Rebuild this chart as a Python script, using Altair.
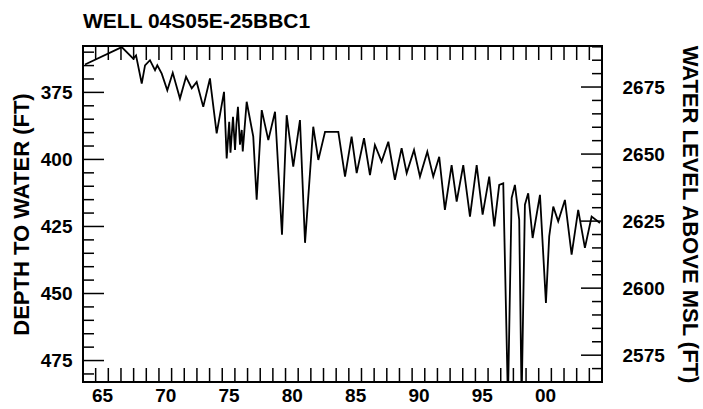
import altair as alt
import pandas as pd

# Hydrograph for well 04S05E-25BBC1: decimal year and depth to water (ft below land surface)
years = [1964.16, 1967.06, 1967.97, 1968.19, 1968.64, 1968.90, 1969.29, 1969.69, 1969.87,
         1970.22, 1970.66, 1971.09, 1971.66, 1972.14, 1972.59, 1972.98, 1973.50, 1974.03,
         1974.12, 1974.56, 1975.14, 1975.35, 1975.55, 1975.65, 1975.85, 1976.01, 1976.12,
         1976.24, 1976.40, 1976.54, 1976.62, 1976.93, 1977.45,
         1977.72, 1978.12, 1978.64, 1979.17, 1979.72, 1980.09, 1980.61, 1981.14, 1981.54,
         1982.19, 1982.59, 1983.12, 1984.17, 1984.70, 1985.22, 1985.62, 1986.20, 1986.67,
         1987.06, 1987.59, 1988.12, 1988.64, 1989.17, 1989.57, 1990.15, 1990.62, 1991.20,
         1991.67, 1992.14, 1992.59, 1993.12, 1993.52, 1994.04, 1994.57, 1995.10, 1995.57,
         1996.09, 1996.49, 1996.88, 1997.20, 1997.57, 1997.86, 1998.12, 1998.46, 1998.65,
         1998.91, 1999.17, 1999.52, 2000.10, 2000.57, 2000.83, 2001.15, 2001.54, 2002.07,
         2002.60, 2003.12, 2003.65, 2004.18, 2004.84]
depth_ft = [364.6, 358.1, 362.4, 361.2, 371.7, 364.9, 363.0, 366.7, 364.9,
            368.0, 374.2, 367.7, 377.3, 369.2, 373.5, 371.1, 380.4, 369.8,
            373.5, 390.3, 374.8, 399.6, 386.0, 397.5, 384.1, 396.5, 387.0,
            380.4, 394.5, 389.0, 397.0, 378.5, 391.5,
            415.0, 381.6, 392.8, 382.2, 428.1, 383.5, 402.7, 385.3, 431.1,
            387.8, 400.2, 389.7, 389.7, 406.4, 391.5, 405.1, 392.1, 405.8,
            394.6, 400.8, 393.4, 407.6, 395.8, 405.1, 396.5, 406.4, 397.1,
            406.4, 399.0, 418.8, 402.1, 415.7, 402.1, 421.3, 402.1, 420.6,
            406.4, 425.0, 409.5, 408.9, 490.0, 414.4, 409.5, 422.5, 490.0,
            416.9, 412.6, 429.3, 413.2, 453.5, 428.7, 417.6, 423.1, 415.1,
            435.5, 418.8, 433.0, 421.3, 423.7]

# Land-surface altitude (ft above MSL) linking depth to water level
LAND_SURFACE_FT = 3048

# Axis extents, tick positions and labels
YEAR_RANGE = [1964, 2005]
DEPTH_RANGE = [357.7, 483.0]
year_ticks = list(range(1965, 2005))
label_years = [1965, 1970, 1975, 1980, 1985, 1990, 1995, 2000]
depth_major = [375, 400, 425, 450, 475]
depth_minor = [d for d in range(360, 485, 5) if d not in depth_major]
level_major = [2575, 2600, 2625, 2650, 2675]
level_minor = [v for v in range(2570, 2695, 5) if v not in level_major]

W, H = 519, 336
FONT = "Liberation Sans"

series = pd.DataFrame({"year": years, "depth": depth_ft})
yr_df = pd.DataFrame({"year": year_ticks})
dmaj_df = pd.DataFrame({"depth": depth_major})
dmin_df = pd.DataFrame({"depth": depth_minor})
lmaj_df = pd.DataFrame({"level": level_major})
lmin_df = pd.DataFrame({"level": level_minor})

x_scale = alt.Scale(domain=YEAR_RANGE, nice=False, zero=False)
depth_scale = alt.Scale(domain=DEPTH_RANGE, reverse=True, nice=False, zero=False)
level_scale = alt.Scale(domain=[LAND_SURFACE_FT - DEPTH_RANGE[1], LAND_SURFACE_FT - DEPTH_RANGE[0]],
                        nice=False, zero=False)

x_axis = alt.Axis(values=[y + 0.5 for y in label_years],
                  labelExpr="slice('0' + (floor(datum.value) % 100), -2)",
                  ticks=False, domain=False, grid=False, labelPadding=4,
                  labelFlush=False, title=None)
depth_axis = alt.Axis(values=depth_major, ticks=False, domain=False, grid=False,
                      labelPadding=11, format="d", title="DEPTH TO WATER (FT)",
                      titleX=-55, titleAngle=-90, titleBaseline="alphabetic")
level_axis = alt.Axis(orient="right", values=level_major, ticks=False, domain=False,
                      grid=False, labelPadding=20, labelAlign="left", format="d",
                      title="WATER LEVEL ABOVE MSL (FT)",
                      titleX=80, titleAngle=90, titleBaseline="alphabetic")

X = alt.X("year:Q", scale=x_scale, axis=x_axis)
Yd = alt.Y("depth:Q", scale=depth_scale, axis=depth_axis)
Yl = alt.Y("level:Q", scale=level_scale, axis=level_axis)

tick_style = dict(color="black", strokeWidth=1.5)

line = alt.Chart(series).mark_line(color="black", strokeWidth=1.8, clip=True).encode(x=X, y=Yd)

top_ticks = alt.Chart(yr_df).mark_rule(**tick_style).encode(
    x=X, y=alt.value(0), y2=alt.value(14))
bottom_ticks = alt.Chart(yr_df).mark_rule(**tick_style).encode(
    x=X, y=alt.value(H - 14), y2=alt.value(H))
left_major = alt.Chart(dmaj_df).mark_rule(**tick_style).encode(
    y=Yd, x=alt.value(0), x2=alt.value(21))
left_minor = alt.Chart(dmin_df).mark_rule(**tick_style).encode(
    y=Yd, x=alt.value(0), x2=alt.value(11))
right_major = alt.Chart(lmaj_df).mark_rule(**tick_style).encode(
    y=Yl, x=alt.value(W - 21), x2=alt.value(W))
right_minor = alt.Chart(lmin_df).mark_rule(**tick_style).encode(
    y=Yl, x=alt.value(W - 10), x2=alt.value(W))

depth_group = alt.layer(line, top_ticks, bottom_ticks, left_major, left_minor)
level_group = alt.layer(right_major, right_minor)

chart = (
    alt.layer(depth_group, level_group)
    .resolve_scale(y="independent")
    .properties(
        width=W, height=H,
        autosize=alt.AutoSizeParams(type="none"),
        padding={"left": 83, "top": 46, "right": 101, "bottom": 27},
        title=alt.Title("WELL 04S05E-25BBC1", anchor="start", frame="group",
                        baseline="alphabetic", offset=19, dy=24, font=FONT,
                        fontSize=21, fontWeight="bold", color="black"),
    )
    .configure(background="white")
    .configure_view(stroke="black", strokeWidth=2)
    .configure_axis(labelFont=FONT, labelFontSize=19, labelFontWeight="bold",
                    labelColor="black", titleFont=FONT, titleFontSize=22,
                    titleFontWeight="bold", titleColor="black")
)

chart.save("out.html", embed_options={"renderer": "svg", "actions": False})
